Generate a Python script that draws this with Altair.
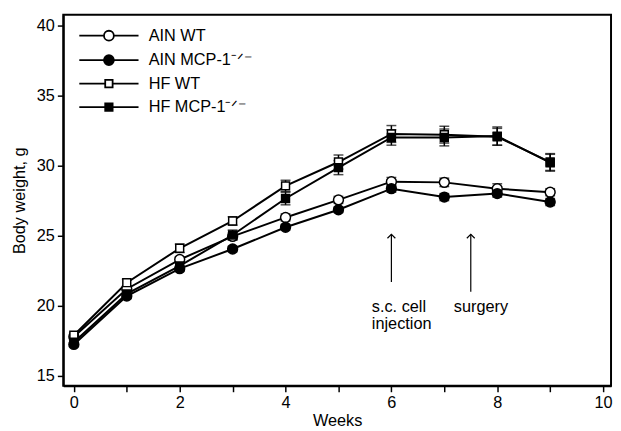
import altair as alt
import pandas as pd

weeks = list(range(10))
series_names = ["AIN WT", "AIN MCP-1⁻ᐟ⁻", "HF WT", "HF MCP-1⁻ᐟ⁻"]
ain_wt = [17.8, 21.2, 23.3, 24.95, 26.3, 27.55, 28.85, 28.8, 28.35, 28.1]
ain_ko = [17.25, 20.7, 22.65, 24.05, 25.6, 26.85, 28.35, 27.75, 28.0, 27.4]
hf_wt = [17.9, 21.65, 24.1, 26.05, 28.55, 30.25, 32.25, 32.2, 32.05, 30.25]
hf_ko = [17.4, 20.85, 22.85, 25.05, 27.65, 29.85, 32.0, 32.0, 32.1, 30.2]
ain_wt_err = [0.15, 0.2, 0.2, 0.25, 0.25, 0.25, 0.3, 0.3, 0.35, 0.25]
ain_ko_err = [0.15, 0.2, 0.2, 0.2, 0.2, 0.2, 0.25, 0.25, 0.25, 0.25]
hf_wt_err = [0.15, 0.25, 0.3, 0.3, 0.4, 0.5, 0.6, 0.6, 0.6, 0.6]
hf_ko_err = [0.15, 0.25, 0.3, 0.35, 0.45, 0.5, 0.55, 0.6, 0.65, 0.6]

marker_shapes = ["circle", "circle", "square", "square"]
marker_fills = ["white", "black", "white", "black"]
marker_sizes = [100, 100, 64, 64]

arrow_weeks = [6, 7.5]
arrow_tip = [25.1, 25.1]
arrow_base = [21.7, 21.0]
note_weeks = [5.63, 7.18]
note_y = [19.9, 19.93]
note_text = ["s.c. cell\ninjection", "surgery"]

rows = []
for name, vals, errs in zip(series_names, [ain_wt, ain_ko, hf_wt, hf_ko],
                            [ain_wt_err, ain_ko_err, hf_wt_err, hf_ko_err]):
    for w, v, e in zip(weeks, vals, errs):
        rows.append({"week": w, "series": name, "weight": v, "lo": v - e, "hi": v + e})
df = pd.DataFrame(rows)
arrows = pd.DataFrame({"week": arrow_weeks, "tip": arrow_tip, "base": arrow_base})
notes = pd.DataFrame({"week": note_weeks, "y": note_y, "text": note_text})

FONT = "Liberation Sans"
xs = alt.Scale(domain=[-0.2, 10.15], nice=False, zero=False)
ys = alt.Scale(domain=[14.3, 40.75], nice=False, zero=False)

x_enc = alt.X("week:Q", scale=xs, title="Weeks",
              axis=alt.Axis(values=list(range(11)),
                            labelExpr="datum.value % 2 === 0 ? datum.label : ''",
                            titlePadding=2))
y_enc = alt.Y("weight:Q", scale=ys, title="Body weight, g",
              axis=alt.Axis(values=[15, 20, 25, 30, 35, 40], titlePadding=9))

base = alt.Chart(df)

lines = base.mark_line(color="black", strokeWidth=2).encode(
    x=x_enc, y=y_enc, detail="series:N")

err = base.mark_rule(color="black", strokeWidth=1.5).encode(
    x="week:Q", y="lo:Q", y2="hi:Q")
cap_lo = base.mark_tick(color="black", orient="horizontal", size=10, thickness=1.5).encode(
    x="week:Q", y="lo:Q")
cap_hi = base.mark_tick(color="black", orient="horizontal", size=10, thickness=1.5).encode(
    x="week:Q", y="hi:Q")

point_layers = []
for name, shp, fil, sz in zip(series_names, marker_shapes, marker_fills, marker_sizes):
    point_layers.append(
        base.transform_filter(alt.datum.series == name).mark_point(
            shape=shp, fill=fil, filled=True, stroke="black", strokeWidth=1.5,
            size=sz, opacity=1).encode(x="week:Q", y="weight:Q"))

circ = "M-6,0H-1M1,0H6M-1,0A1,1 0 1,0 1,0A1,1 0 1,0 -1,0Z"
sq = "M-6,0H-0.75M0.75,0H6M-0.75,-0.75H0.75V0.75H-0.75Z"
leg = alt.Legend(orient="none", legendX=38, legendY=13)
legend_layer = base.transform_filter("datum.week < 0").mark_point(
    filled=True, strokeWidth=1.8, opacity=1).encode(
    x="week:Q", y="weight:Q",
    shape=alt.Shape("series:N", scale=alt.Scale(domain=series_names,
                    range=[circ, circ, sq, sq]), title=None, legend=leg),
    fill=alt.Fill("series:N", scale=alt.Scale(domain=series_names,
                  range=marker_fills), title=None, legend=leg),
    stroke=alt.Stroke("series:N", scale=alt.Scale(domain=series_names,
                      range=["black"] * 4), title=None, legend=leg),
)

shafts = alt.Chart(arrows).mark_rule(color="black", strokeWidth=1.2).encode(
    x="week:Q", y="tip:Q", y2="base:Q")
heads = alt.Chart(arrows).mark_point(shape="M-1,1L0,0L1,1", filled=False, size=64,
                                     color="black", strokeWidth=1.2, opacity=1).encode(
    x="week:Q", y="tip:Q")
texts = alt.Chart(notes).mark_text(align="left", baseline="middle", fontSize=16.5,
                                   font=FONT, lineBreak="\n", lineHeight=16.7,
                                   color="black").encode(
    x="week:Q", y="y:Q", text="text:N")

chart = alt.layer(lines, err, cap_lo, cap_hi, *point_layers, legend_layer,
                  shafts, heads, texts).properties(
    width=555, height=376,
    autosize=alt.AutoSizeParams(type="none"),
    padding={"left": 56, "top": 4, "right": 2, "bottom": 43},
).configure_view(
    stroke="black", strokeWidth=2
).configure_axis(
    grid=False, domainColor="black", domainWidth=2, tickColor="black", tickWidth=1.5,
    tickSize=6, labelFont=FONT, labelFontSize=16.5, labelColor="black", labelPadding=3,
    titleFont=FONT, titleFontSize=16.5, titleFontWeight="normal", titleColor="black",
).configure_legend(
    symbolSize=100, symbolStrokeWidth=1.8, labelOffset=32,
    labelFont=FONT, labelFontSize=16.5, labelColor="black", rowPadding=6.8, padding=0,
    labelLimit=300,
)

chart.save("out.html", embed_options={"renderer": "svg", "actions": False})
